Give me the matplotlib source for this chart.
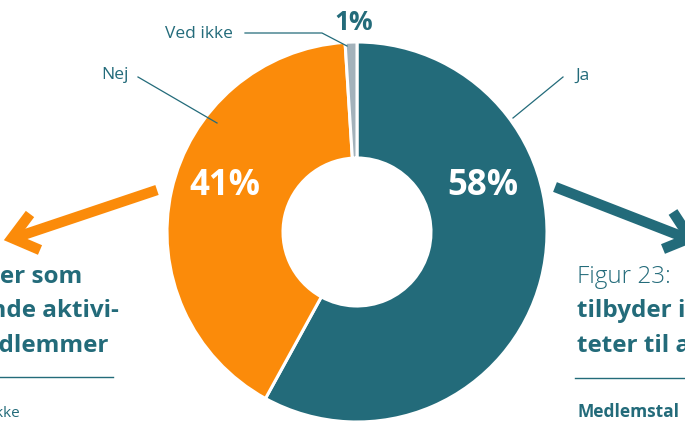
import matplotlib.pyplot as plt

plt.rcParams['font.family'] = ['Open Sans', 'DejaVu Sans']

# data
labels = ['Ja', 'Nej', 'Ved ikke']
values = [58, 41, 1]
colors = ['#236b7a', '#fb8b0a', '#a3b2bb']

TEAL = '#236b7a'
ORANGE = '#fb8b0a'
W, H = 685, 421


def Y(y):
    # billedkoordinater (øverst til venstre) -> akse-koordinater
    return H - y


fig = plt.figure(figsize=(6.85, 4.21), dpi=100)
ax = fig.add_axes([0, 0, 1, 1])

ax.pie(values, colors=colors, startangle=90, counterclock=False,
       center=(357, Y(232)), radius=190,
       wedgeprops=dict(width=116, edgecolor='white', linewidth=2.2))
ax.set_xlim(0, W)
ax.set_ylim(0, H)
ax.set_aspect('equal')
ax.axis('off')

# procent-labels
ax.text(483, Y(186), f"{values[0]}%", color='white', fontsize=25, fontweight='bold',
        ha='center', va='center')
ax.text(225, Y(186), f"{values[1]}%", color='white', fontsize=25, fontweight='bold',
        ha='center', va='center')
ax.text(354, Y(23), f"{values[2]}%", color=TEAL, fontsize=19, fontweight='bold',
        ha='center', va='center')

# kategori-labels med linjer
ax.text(575, Y(76), labels[0], color=TEAL, fontsize=12.5, ha='left', va='center')
ax.plot([563, 513], [Y(77), Y(118)], color=TEAL, lw=0.9)
ax.text(129, Y(75), labels[1], color=TEAL, fontsize=12.5, ha='right', va='center')
ax.plot([138, 217], [Y(77), Y(123)], color=TEAL, lw=0.9)
ax.text(233, Y(34), labels[2], color=TEAL, fontsize=12.5, ha='right', va='center')
ax.plot([245, 322, 347], [Y(33), Y(33), Y(46)], color=TEAL, lw=0.9)

# pile
ax.plot([157, 14], [Y(190), Y(238)], color=ORANGE, lw=7.5, solid_capstyle='butt')
ax.plot([30, 12, 40], [Y(214), Y(238), Y(250)], color=ORANGE, lw=7.5,
        solid_capstyle='butt', solid_joinstyle='miter')
ax.plot([555, 686], [Y(187), Y(238)], color=TEAL, lw=7.5, solid_capstyle='butt')
ax.plot([673, 690, 663], [Y(212), Y(238), Y(249)], color=TEAL, lw=7.5,
        solid_capstyle='butt', solid_joinstyle='miter')

# venstre tekstblok (beskåret)
left_lines = ['Andel af foreninger som', 'tilbyder inkluderende aktivi-', 'teter til medlemmer']
for txt, x, y in zip(left_lines, [82, 119, 108], [283, 317, 352]):
    ax.text(x, Y(y), txt, color=TEAL, fontsize=17.5, fontweight='bold', ha='right', va='baseline')
ax.plot([0, 113], [Y(377), Y(377)], color=TEAL, lw=1)
ax.text(20, Y(417), 'Kilde: Ved ikke', color=TEAL, fontsize=11, ha='right', va='baseline')

# højre tekstblok (beskåret)
ax.text(577, Y(283), 'Figur 23:', color=TEAL, fontsize=17.5, fontweight='light', ha='left', va='baseline')
ax.text(577, Y(317), 'tilbyder inkluderende aktivi-', color=TEAL, fontsize=17.5, fontweight='bold',
        ha='left', va='baseline')
ax.text(577, Y(352), 'teter til alle', color=TEAL, fontsize=17.5, fontweight='bold',
        ha='left', va='baseline')
ax.plot([575, W], [Y(378), Y(378)], color=TEAL, lw=1)
ax.text(578, Y(417), 'Medlemstal', color=TEAL, fontsize=12.5, fontweight='bold', ha='left', va='baseline')

fig.savefig('out.png', dpi=100)
